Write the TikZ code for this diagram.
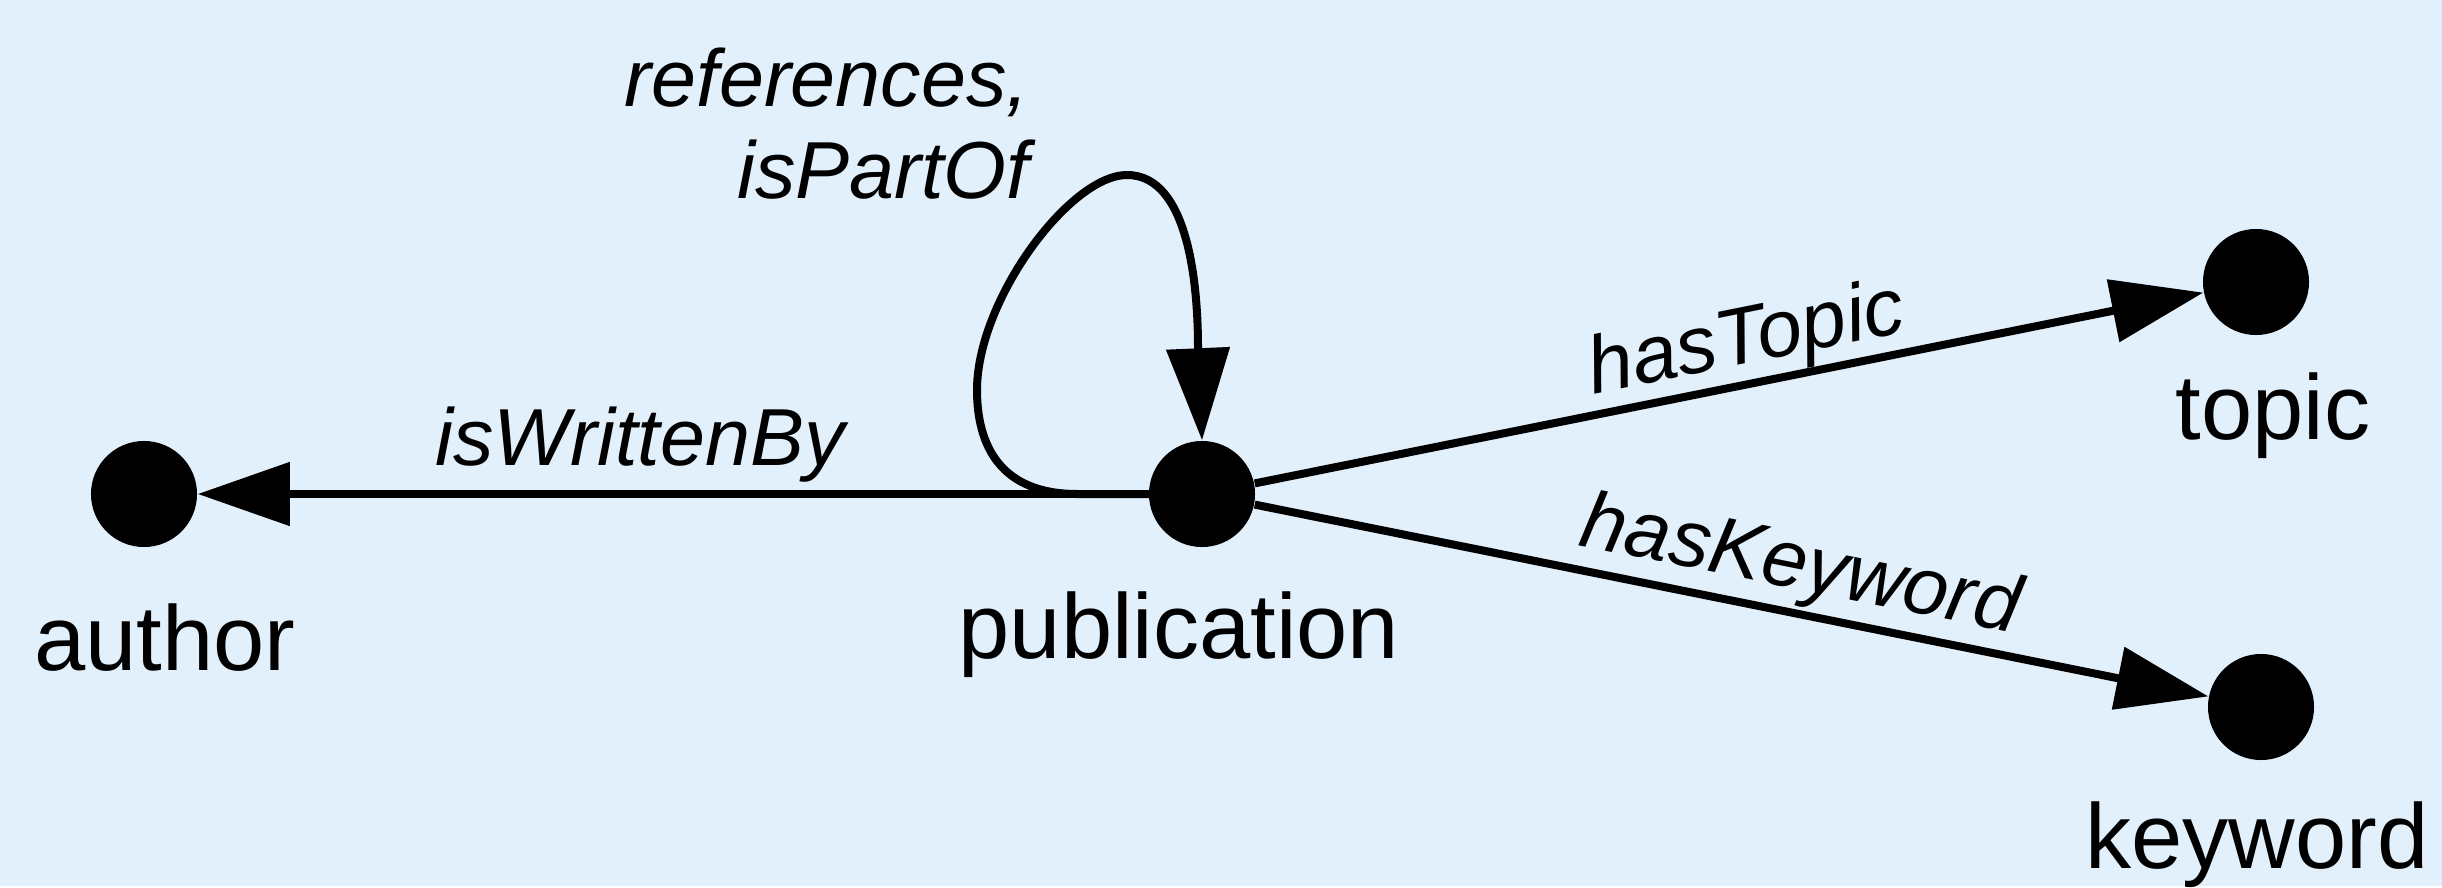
\documentclass[tikz,border=0pt]{standalone}
\usepackage{fontspec}
\setmainfont{Liberation Sans}
\usetikzlibrary{arrows.meta}
\definecolor{bgblue}{RGB}{226,240,252}
\tikzset{
  dot/.style={circle, fill=black, inner sep=0pt, minimum size=1.06cm},
  nlabel/.style={font=\fontsize{26.2pt}{30pt}\selectfont, inner sep=0pt, anchor=base},
  elabel/.style={font=\fontsize{23pt}{26.2pt}\selectfont\itshape, inner sep=0pt},
  arr/.style={line width=0.08cm, -{Triangle[length=0.92cm, width=0.62cm]}}
}
\begin{document}
\begin{tikzpicture}[x=0.01cm, y=-0.01cm]
\path[fill=bgblue] (0,0) rectangle (2442,886);
\node[dot] (author) at (144,494) {};
\node[dot] (pub) at (1202,494) {};
\node[dot] (topic) at (2256,282) {};
\node[dot] (keyword) at (2261,707) {};
\node[nlabel] (authorlbl) at (165,670) {author};
\node[nlabel] (publbl) at (1179,658) {publication};
\node[nlabel] (topiclbl) at (2273,439) {topic};
\node[nlabel] (keywordlbl) at (2257,868) {keyword};
\draw[arr] (pub) -- (author);
\draw[arr] (pub) -- (topic);
\draw[arr] (pub) -- (keyword);
\draw[arr] (pub.center) -- (1077,494)
  .. controls (1000,494) and (977,445) .. (977,390)
  .. controls (977,300) and (1070,175) .. (1127,175)
  .. controls (1190,175) and (1198,290) .. (1198,348)
  -- (pub.north);
\node[elabel, anchor=base] (lwb) at (640,465) {isWrittenBy};
\node[elabel, anchor=base, rotate=11.4] (lht) at (1751,363) {hasTopic};
\node[elabel, anchor=base, rotate=-11.4] (lhk) at (1796,589) {hasKeyword};
\node[elabel, anchor=north east, align=right] (lref) at (1030,47) {references,\\isPartOf};
\end{tikzpicture}
\end{document}
